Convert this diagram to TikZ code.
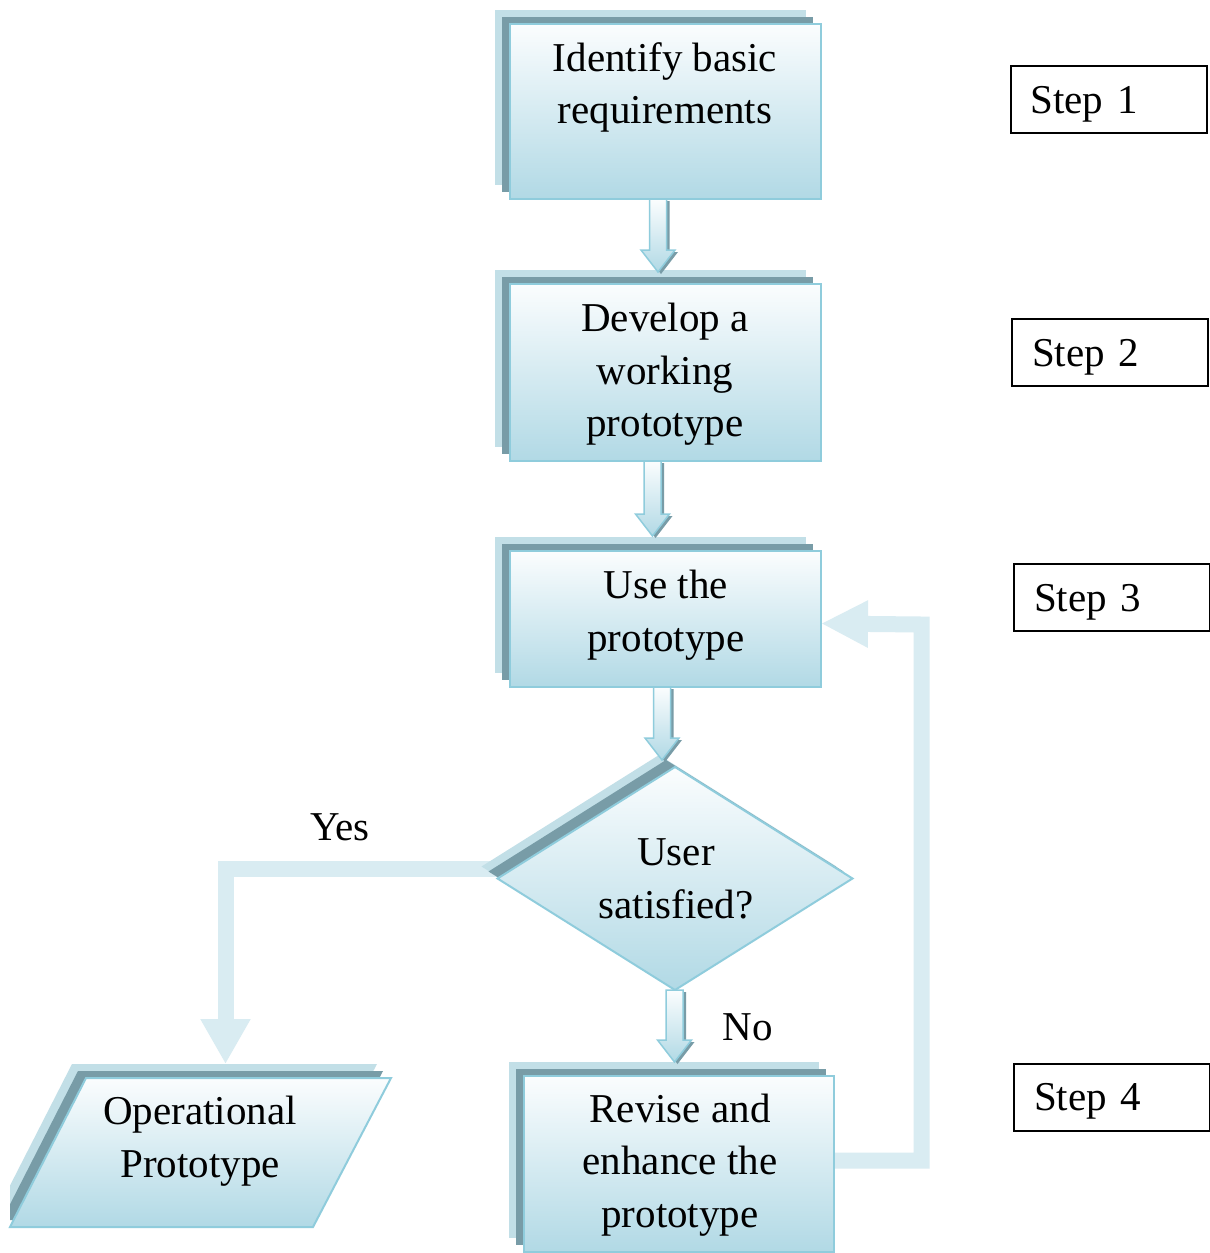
\documentclass[tikz,border=0pt]{standalone}
\usepackage{fontspec}
\setmainfont{Liberation Serif}
\usetikzlibrary{arrows.meta,shapes.geometric,calc,backgrounds}
\definecolor{bord}{HTML}{8FCCDC}
\definecolor{boxbot}{HTML}{B1D9E5}
\definecolor{boxtop}{HTML}{FBFDFE}
\definecolor{lsh}{HTML}{C2DFE7}
\definecolor{dsh}{HTML}{789CA7}
\definecolor{flow}{HTML}{D9ECF2}
\tikzset{
  txt/.style={font=\fontsize{41}{52.5}\selectfont, align=center, inner sep=0pt},
  procbox/.style={rectangle, draw=bord, line width=2pt, top color=boxtop, bottom color=boxbot, minimum width=311pt, inner sep=0pt, outer sep=0pt},
  decbox/.style={diamond, draw=bord, line width=2pt, top color=boxtop, bottom color=boxbot, minimum width=355pt, minimum height=223pt, inner sep=0pt, outer sep=0pt},
  stepbox/.style={rectangle, draw=black, line width=2pt, minimum height=67pt, text width=156pt, inner xsep=20pt, align=left, text height=31pt, text depth=4pt, font=\fontsize{41}{52.5}\selectfont},
  flowline/.style={draw=flow, line width=16pt, line join=miter},
}
\newcommand\boxshadow[1]{%
  \fill[lsh] ([shift={(-15,-14)}]#1.south west) rectangle ([shift={(-15,-14)}]#1.north east);
  \fill[dsh] ([shift={(-8,-7)}]#1.south west) rectangle ([shift={(-8,-7)}]#1.north east);}
\newcommand\blockarr[2]{%
  \fill[dsh] let \p1=#1, \p2=#2 in
    (\x1-5.5pt,\y1-2pt) -- (\x1+11.5pt,\y1-2pt) -- (\x1+11.5pt,\y2+20pt) -- (\x1+20pt,\y2+20pt)
    -- (\x1+3pt,\y2-2pt) -- (\x1-14pt,\y2+20pt) -- (\x1-5.5pt,\y2+20pt) -- cycle;
  \shadedraw[draw=bord, line width=1.5pt, top color=boxtop, bottom color=boxbot, line join=miter] let \p1=#1, \p2=#2 in
    (\x1-8.5pt,\y1) -- (\x1+8.5pt,\y1) -- (\x1+8.5pt,\y2+22pt) -- (\x1+17pt,\y2+22pt)
    -- (\x1,\y2) -- (\x1-17pt,\y2+22pt) -- (\x1-8.5pt,\y2+22pt) -- cycle;}
\begin{document}
\begin{tikzpicture}[x=1pt,y=-1pt]
\useasboundingbox (0,0) rectangle (1210,1253);

% process boxes
\node[procbox, minimum height=175pt] (b1) at (665.5,111.5) {};
\node[procbox, minimum height=177pt] (b2) at (665.5,372.5) {};
\node[procbox, minimum height=136pt] (b3) at (665.5,619) {};
\node[decbox] (d) at (675,878.5) {};
\node[procbox, minimum width=310pt, minimum height=176pt] (b4) at (679,1164) {};

% parallelogram (operational prototype)
\coordinate (pa) at (86,1078);
\coordinate (pb) at (391,1078);
\coordinate (pc) at (313,1227);
\coordinate (pd) at (10,1227);
\shade[draw=bord, line width=2pt, top color=boxtop, bottom color=boxbot] (pa) -- (pb) -- (pc) -- (pd) -- cycle;
\coordinate (ptop) at (225.5,1064);

\begin{scope}[on background layer]
  \fill[white] (0,0) rectangle (1210,1253);
  % flow arrows
  \draw[flowline, -{Triangle[length=45pt,width=47pt]}] ([yshift=10pt]d.west) -| (ptop);
  \draw[flowline, -{Triangle[length=47pt,width=44pt]}] ([yshift=3.5pt]b4.east) -| (921.5,624.5) -- ([yshift=-4.5pt]b3.east);
  % shadows
  \boxshadow{b1}
  \boxshadow{b2}
  \boxshadow{b3}
  \boxshadow{b4}
  \fill[lsh] ([shift={(-16,-12)}]d.north) -- ([shift={(-16,-12)}]d.east) -- ([shift={(-16,-12)}]d.south) -- ([shift={(-16,-12)}]d.west) -- cycle;
  \fill[dsh] ([shift={(-9,-7)}]d.north) -- ([shift={(-9,-7)}]d.east) -- ([shift={(-9,-7)}]d.south) -- ([shift={(-9,-7)}]d.west) -- cycle;
  \begin{scope}
    \clip (10,0) rectangle (1210,1253);
    \fill[lsh] ([shift={(-14,-14)}]pa) -- ([shift={(-14,-14)}]pb) -- ([shift={(-14,-14)}]pc) -- ([shift={(-14,-14)}]pd) -- cycle;
    \fill[dsh] ([shift={(-8,-7)}]pa) -- ([shift={(-8,-7)}]pb) -- ([shift={(-8,-7)}]pc) -- ([shift={(-8,-7)}]pd) -- cycle;
  \end{scope}
\end{scope}

% block arrows between shapes
\blockarr{([xshift=-7.5pt]b1.south)}{([xshift=-7.5pt,yshift=12pt]b2.north)}
\blockarr{([xshift=-13pt]b2.south)}{([xshift=-13pt,yshift=15pt]b3.north)}
\blockarr{([xshift=-3.5pt]b3.south)}{([xshift=-13pt,yshift=7pt]d.north)}
\blockarr{([xshift=-0.5pt]d.south)}{([xshift=-4.5pt,yshift=14pt]b4.north)}

% texts
\node[txt] (t1) at (665,87.5) {Identify basic\\requirements};
\node[txt] (t2) at (665,374.5) {Develop a\\working\\prototype};
\node[txt] (t3) at (666,615) {Use the\\prototype};
\node[txt] (t4) at (676,879) {User\\satisfied?};
\node[txt] (t5) at (680,1165) {Revise and\\enhance the\\prototype};
\node[txt] (t6) at (200,1141) {Operational\\Prototype};
\node[txt] (yes) at (340,827) {Yes};
\node[txt] (no) at (748,1027) {No};

% step labels
\node[stepbox] (s1) at (1108.5,99.5) {Step 1};
\node[stepbox] (s2) at (1110,352.5) {Step 2};
\node[stepbox] (s3) at (1112,597.5) {Step 3};
\node[stepbox] (s4) at (1112,1097) {Step 4};
\end{tikzpicture}
\end{document}
